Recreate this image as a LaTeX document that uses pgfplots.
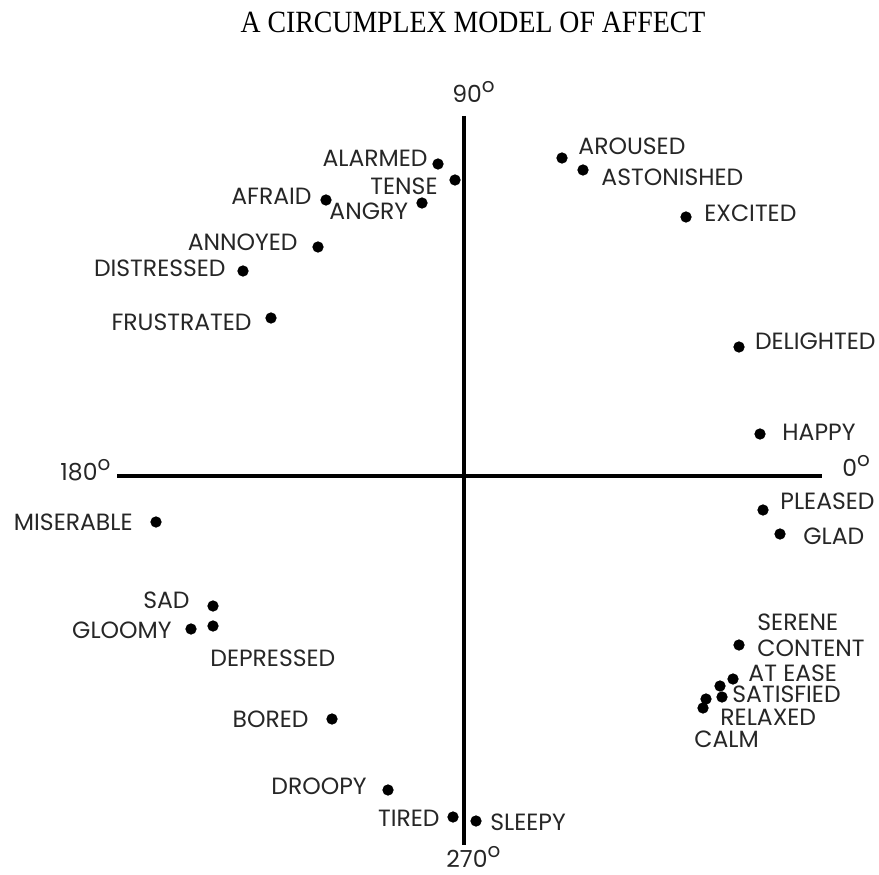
\documentclass[border=0pt]{standalone}
\usepackage{fontspec}
\setmainfont{Poppins}
\newfontfamily\lab{Poppins}
\newfontfamily\ttl[FakeStretch=0.9]{Liberation Serif}
\usepackage{pgfplots}
\pgfplotsset{compat=1.18}
\newcommand{\dg}{\raisebox{0.8ex}{\fontsize{10}{10}\selectfont o}}
\tikzset{lbl/.style={font=\lab\fontsize{11.8}{11.8}\selectfont, inner sep=0pt, text=black!85}}
\begin{document}
\begin{tikzpicture}
\begin{axis}[
  scale only axis, width=439.5bp, height=437.5bp,
  xmin=0, xmax=879, ymin=0, ymax=875, y dir=reverse,
  hide axis, clip=false,
]
% axes
\addplot[black, line width=1.7bp] coordinates {(117,476) (822,476)};
\addplot[black, line width=1.7bp] coordinates {(464,116) (464,845)};
% points
\addplot[only marks, mark=*, mark size=2.6bp, black] coordinates {
(438,164) (455,180) (326,200) (422,203) (318,247) (243,271) (271,318)
(562,158) (583,170) (686,217) (739,347) (760,434) (763,510) (780,534)
(156,522) (213,606) (191,629) (213,626) (332,719) (388,790) (453,817) (476,821)
(739,645) (733,679) (720,686) (722,697) (706,699) (703,708)
};
% title
\node[font=\ttl\fontsize{15.5}{15.5}\selectfont, text=black] at (axis cs:473,22) {A CIRCUMPLEX MODEL OF AFFECT};
% degree labels
\node[lbl, anchor=west] at (axis cs:452,92) {90\dg};
\node[lbl, anchor=west] at (axis cs:60,470) {180\dg};
\node[lbl, anchor=west] at (axis cs:842,466) {0\dg};
\node[lbl, anchor=west] at (axis cs:446,857) {270\dg};
% left labels
\node[lbl, anchor=east] at (axis cs:428,158) {ALARMED};
\node[lbl, anchor=east] at (axis cs:438,186) {TENSE};
\node[lbl, anchor=east] at (axis cs:312,196) {AFRAID};
\node[lbl, anchor=west] at (axis cs:329,211) {ANGRY};
\node[lbl, anchor=east] at (axis cs:298,242) {ANNOYED};
\node[lbl, anchor=east] at (axis cs:226,268) {DISTRESSED};
\node[lbl, anchor=east] at (axis cs:252,322) {FRUSTRATED};
\node[lbl, anchor=east] at (axis cs:133,522) {MISERABLE};
\node[lbl, anchor=east] at (axis cs:190,600) {SAD};
\node[lbl, anchor=east] at (axis cs:172,630) {GLOOMY};
\node[lbl, anchor=west] at (axis cs:210,658) {DEPRESSED};
\node[lbl, anchor=east] at (axis cs:309,719) {BORED};
\node[lbl, anchor=east] at (axis cs:367,786) {DROOPY};
\node[lbl, anchor=east] at (axis cs:440,818) {TIRED};
% right labels
\node[lbl, anchor=west] at (axis cs:490,822) {SLEEPY};
\node[lbl, anchor=west] at (axis cs:578,146) {AROUSED};
\node[lbl, anchor=west] at (axis cs:601,177) {ASTONISHED};
\node[lbl, anchor=west] at (axis cs:704,213) {EXCITED};
\node[lbl, anchor=east] at (axis cs:876,341) {DELIGHTED};
\node[lbl, anchor=west] at (axis cs:782,432) {HAPPY};
\node[lbl, anchor=east] at (axis cs:875,501) {PLEASED};
\node[lbl, anchor=west] at (axis cs:803,536) {GLAD};
\node[lbl, anchor=west] at (axis cs:757,622) {SERENE};
\node[lbl, anchor=west] at (axis cs:757,648) {CONTENT};
\node[lbl, anchor=west] at (axis cs:748,673) {AT EASE};
\node[lbl, anchor=west] at (axis cs:732,694) {SATISFIED};
\node[lbl, anchor=west] at (axis cs:720,717) {RELAXED};
\node[lbl, anchor=west] at (axis cs:694,739) {CALM};
\end{axis}
\pgfresetboundingbox
\path (current axis.south west) rectangle (current axis.north east);
\end{tikzpicture}
\end{document}
